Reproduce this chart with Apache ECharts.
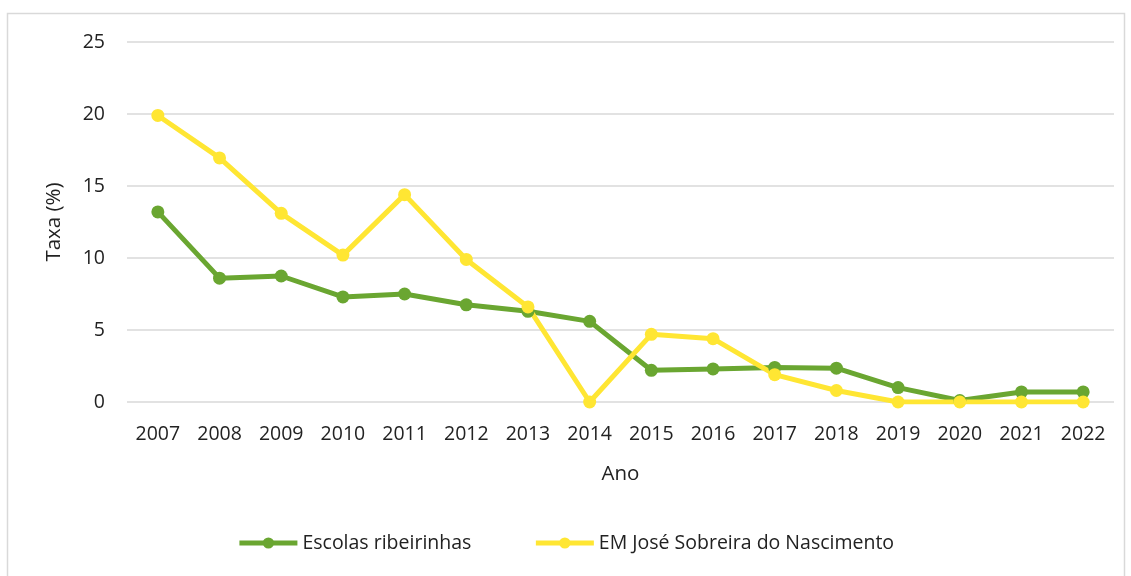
<!DOCTYPE html>
<html><head><meta charset="utf-8">
<script src="https://cdn.jsdelivr.net/npm/echarts@6/dist/echarts.min.js"></script>
<style>html,body{margin:0;padding:0;background:#fff}#c{width:1131px;height:576px}</style>
</head><body><div id="c"></div>
<script>
const years = ['2007','2008','2009','2010','2011','2012','2013','2014','2015','2016','2017','2018','2019','2020','2021','2022'];
const escolasRibeirinhas = [13.2, 8.6, 8.75, 7.3, 7.5, 6.75, 6.3, 5.6, 2.2, 2.3, 2.4, 2.35, 1.0, 0.1, 0.7, 0.7];
const emJoseSobreira = [19.9, 16.95, 13.1, 10.2, 14.4, 9.9, 6.6, 0, 4.7, 4.4, 1.9, 0.8, 0, 0, 0, 0];
const seriesNames = ['Escolas ribeirinhas', 'EM José Sobreira do Nascimento'];
const font = '"Open Sans", "Noto Sans", sans-serif';
const chart = echarts.init(document.getElementById('c'));
chart.setOption({
  backgroundColor: '#fff',
  textStyle: {fontFamily: font},
  graphic: [{type: 'rect', shape: {x: 7.5, y: 13.5, width: 1117, height: 580}, style: {fill: 'none', stroke: '#d9d9d9', lineWidth: 1.5}, silent: true}],
  grid: {left: 127, right: 17, top: 42, bottom: 174},
  legend: {
    bottom: 18, left: 'center', itemWidth: 58, itemHeight: 14, itemGap: 62,
    lineStyle: {width: 5},
    textStyle: {fontSize: 19.5, color: '#222', fontFamily: font},
    data: seriesNames
  },
  xAxis: {
    type: 'category', data: years, boundaryGap: true,
    name: 'Ano', nameLocation: 'middle', nameGap: 62,
    nameTextStyle: {fontSize: 20.5, color: '#222'},
    axisLine: {show: false}, axisTick: {show: false},
    axisLabel: {fontSize: 19.5, color: '#222', margin: 22}
  },
  yAxis: {
    type: 'value', min: 0, max: 25, interval: 5,
    name: 'Taxa (%)', nameLocation: 'middle', nameGap: 62,
    nameTextStyle: {fontSize: 20.5, color: '#222'},
    axisLine: {show: false}, axisTick: {show: false},
    axisLabel: {fontSize: 19.5, color: '#222', margin: 22},
    splitLine: {lineStyle: {color: '#d9d9d9', width: 1.5}}
  },
  series: [
    {name: seriesNames[0], type: 'line', data: escolasRibeirinhas, symbol: 'circle', symbolSize: 13,
     lineStyle: {width: 5, color: '#6aa631'}, itemStyle: {color: '#6aa631'}},
    {name: seriesNames[1], type: 'line', data: emJoseSobreira, symbol: 'circle', symbolSize: 13,
     lineStyle: {width: 5, color: '#ffe633'}, itemStyle: {color: '#ffe633'}}
  ]
});
</script></body></html>
